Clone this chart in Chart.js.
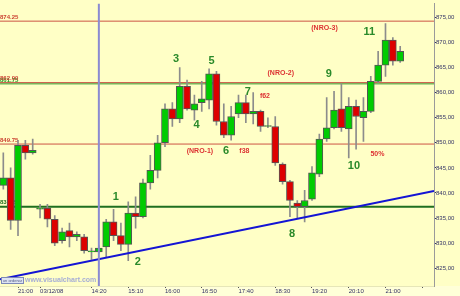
<!DOCTYPE html>
<html lang="es">
<head>
<meta charset="UTF-8">
<title>Velas 10 minutos</title>
<script src="https://cdn.jsdelivr.net/npm/chart.js"></script>
<style>
  html, body { margin: 0; padding: 0; background: #ffffd8; }
  canvas { display: block; }
</style>
</head>
<body>
<canvas id="grafico" width="460" height="296"></canvas>
<script>
// 10 minute candles, one entry per bar (index 0 = first bar on the left)
var aperturas = [841.5, 843, 834.5, 849.5, 848, 836.75, 837, 834.75, 830.5, 832.5, 831.25, 831.25, 828.25, 828.25,
  829.25, 834.25, 831.5, 829.75, 836, 835.25, 842, 844.5, 850, 856.75, 854.75, 861.25, 856.5, 858, 858.5, 863.75,
  854.25, 851.5, 855.75, 858, 855.75, 856.25, 853.25, 853.25, 845.75, 842.25, 838, 837.25, 838.75, 843.75, 850.75,
  853, 856.75, 852.75, 857.25, 855, 856.25, 862.25, 865.5, 870.5, 866.25];
var maximos = [848, 845, 850.5, 850.5, 850.75, 837.75, 837.75, 835.5, 833, 834, 832.25, 831.75, 829, 829.5,
  834.75, 836.75, 834, 838.25, 839.25, 842.75, 847.5, 851.5, 857.75, 858, 865, 862.5, 859.5, 862.25, 864.75, 864.25,
  857.75, 857.25, 859.5, 859.5, 860, 856.5, 855, 855.25, 846, 842.5, 838.5, 840.5, 845.25, 851.75, 859,
  860.25, 861.75, 859, 858.5, 859, 863.25, 868.25, 873.75, 871, 869.25];
var minimos = [840.75, 832.75, 831.5, 846.75, 847.75, 835, 833.25, 829.5, 830, 829.25, 830.5, 828, 826.75, 828,
  827.25, 830.5, 828.5, 826.5, 833, 835, 840.75, 843, 849.25, 853.25, 854, 856.5, 854.5, 856.25, 856.75, 853.5,
  851, 850.5, 855, 854, 853.75, 852.25, 853, 845.5, 841.75, 835.25, 835, 834.25, 838.5, 843.25, 850.25,
  852.75, 852.25, 847, 848.75, 850.25, 856, 862, 863.25, 865.5, 866];
var cierres = [843, 834.5, 849.5, 848, 848.5, 836.75, 834.75, 830, 832.25, 831.25, 831.75, 828.5, 828.25, 829,
  834.25, 831.5, 829.75, 836, 835.25, 842, 844.5, 850, 856.75, 854.75, 861.25, 856.75, 857.75, 858.75, 863.75, 854.25,
  851.5, 855.25, 858, 855.75, 856.25, 853.25, 853.25, 846, 842.25, 838.5, 837.25, 838.5, 844, 850.75, 853,
  856.5, 853, 857.25, 855.25, 856.25, 862.25, 865.5, 870.5, 866.25, 868.25];

// time axis
var ticksX = [2, 5, 12, 17, 22, 27, 32, 37, 42, 47, 52, 57];
var etiquetasX = ['21:00', '03/12/08', '14:20', '15:10', '16:00', '16:50', '17:40', '18:30', '19:20', '20:10', '21:00', ''];
var ticksY = [825, 830, 835, 840, 845, 850, 855, 860, 865, 870, 875];

// drawn levels
var nivelesRojos = [874.25, 862.00, 849.75];
var nivelesVerdes = [861.75, 837.25];
var directriz = [822.8, 840.4];   // blue trend line at left and right edge
var cursorX = 13;                 // vertical cursor bar

// wave count
var numeros = ['1', '2', '3', '4', '5', '6', '7', '8', '9', '10', '11'];
var numerosX = [15.3, 18.3, 23.5, 26.3, 28.35, 30.3, 33.25, 39.3, 44.3, 47.7, 49.8];
var numerosY = [839.2, 826.2, 866.7, 853.5, 866.3, 848.4, 860.2, 831.75, 863.8, 845.3, 872.05];

// red notes
var notas = ['(NRO-3)', '(NRO-2)', '(NRO-1)', 'f62', 'f38', '50%'];
var notasX = [43.7, 37.75, 26.75, 35.6, 32.8, 50.9];
var notasY = [872.8, 864, 848.4, 859.25, 848.4, 847.8];

var xMin = -0.45, xMax = 58.6, yMin = 821.45, yMax = 877.75;

var cuerpos = [];
var mechas = [];
var colores = [];
for (var i = 0; i < aperturas.length; i++) {
  cuerpos.push({ x: i, y: [aperturas[i], cierres[i]] });
  mechas.push({ x: i, y: [minimos[i], maximos[i]] });
  colores.push(cierres[i] >= aperturas[i] ? '#00cc00' : '#dd0000');
}

var datasets = [];
// blue lines on top
datasets.push({ type: 'line', data: [{ x: cursorX, y: yMin }, { x: cursorX, y: yMax }], borderColor: '#8a8ad2', borderWidth: 2, pointRadius: 0, order: 0 });
datasets.push({ type: 'line', data: [{ x: xMin, y: directriz[0] }, { x: xMax, y: directriz[1] }], borderColor: '#1414d4', borderWidth: 2, pointRadius: 0, order: 1 });
// candles
datasets.push({ type: 'bar', data: cuerpos, backgroundColor: colores, borderColor: '#555555', borderWidth: 1, borderSkipped: false, barThickness: 7, minBarLength: 1, grouped: false, order: 3 });
datasets.push({ type: 'bar', data: mechas, backgroundColor: '#8c8c8c', borderWidth: 0, barThickness: 1, grouped: false, order: 4 });
// levels behind
for (var r = 0; r < nivelesRojos.length; r++) {
  datasets.push({ type: 'line', data: [{ x: xMin, y: nivelesRojos[r] }, { x: xMax, y: nivelesRojos[r] }], borderColor: '#cc5544', borderWidth: 1, pointRadius: 0, order: 5 });
}
datasets.push({ type: 'line', data: [{ x: xMin, y: nivelesVerdes[0] }, { x: xMax, y: nivelesVerdes[0] }], borderColor: '#2a9a2a', borderWidth: 1, pointRadius: 0, order: 5 });
datasets.push({ type: 'line', data: [{ x: xMin, y: nivelesVerdes[1] }, { x: xMax, y: nivelesVerdes[1] }], borderColor: '#1f6f1f', borderWidth: 2, pointRadius: 0, order: 5 });

var fondo = {
  id: 'fondo',
  beforeDraw: function (chart) {
    var ctx = chart.ctx, a = chart.chartArea;
    ctx.save();
    ctx.fillStyle = '#ffffd8';
    ctx.fillRect(0, 0, chart.width, chart.height);
    ctx.fillStyle = '#ffffc6';
    ctx.fillRect(0, 0, chart.width, a.bottom);
    ctx.restore();
  }
};

var textosNiveles = {
  id: 'textosNiveles',
  beforeDatasetsDraw: function (chart) {
    var ctx = chart.ctx, y = chart.scales.y;
    ctx.save();
    ctx.font = 'bold 6px "Liberation Sans", Arial, sans-serif';
    ctx.textAlign = 'left';
    ctx.textBaseline = 'bottom';
    ctx.fillStyle = '#2a9a2a';
    ctx.fillText(nivelesVerdes[0].toFixed(2), 0, y.getPixelForValue(nivelesVerdes[0]) - 1);
    ctx.fillStyle = '#1f6f1f';
    ctx.fillText(nivelesVerdes[1].toFixed(2), 0, y.getPixelForValue(nivelesVerdes[1]) - 1);
    ctx.fillStyle = '#cc4433';
    for (var r = 0; r < nivelesRojos.length; r++) {
      ctx.fillText(nivelesRojos[r].toFixed(2), 0, y.getPixelForValue(nivelesRojos[r]) - 1);
    }
    ctx.restore();
  }
};

var anotaciones = {
  id: 'anotaciones',
  afterDatasetsDraw: function (chart) {
    var ctx = chart.ctx, x = chart.scales.x, y = chart.scales.y;
    ctx.save();
    ctx.textAlign = 'center';
    ctx.textBaseline = 'middle';
    ctx.font = 'bold 11px "Liberation Sans", Arial, sans-serif';
    ctx.fillStyle = '#2a8a2a';
    for (var n = 0; n < numeros.length; n++) {
      ctx.fillText(numeros[n], x.getPixelForValue(numerosX[n]), y.getPixelForValue(numerosY[n]));
    }
    ctx.font = 'bold 7px "Liberation Sans", Arial, sans-serif';
    ctx.fillStyle = '#dd3333';
    for (var m = 0; m < notas.length; m++) {
      ctx.fillText(notas[m], x.getPixelForValue(notasX[m]), y.getPixelForValue(notasY[m]));
    }
    // visualchart watermark
    ctx.fillStyle = '#dde3f2';
    ctx.strokeStyle = '#7c88b8';
    ctx.lineWidth = 1;
    ctx.fillRect(1.5, 277.5, 22, 6);
    ctx.strokeRect(1.5, 277.5, 22, 6);
    ctx.font = '4px "Liberation Sans", Arial, sans-serif';
    ctx.fillStyle = '#55608a';
    ctx.fillText('un ordenar', 12.5, 280.6);
    ctx.font = 'bold 7px "Liberation Sans", Arial, sans-serif';
    ctx.textAlign = 'left';
    ctx.fillStyle = '#a6aed6';
    ctx.fillText('www.visualchart.com', 25, 280.5);
    ctx.restore();
  }
};

var grafico = new Chart(document.getElementById('grafico'), {
  type: 'bar',
  data: { datasets: datasets },
  options: {
    responsive: false,
    animation: false,
    layout: { padding: 0 },
    plugins: { legend: { display: false }, tooltip: { enabled: false } },
    scales: {
      x: {
        type: 'linear', min: xMin, max: xMax, offset: false,
        grid: { drawOnChartArea: false, drawTicks: true, tickLength: 2, tickColor: '#555555', offset: false },
        border: { display: true, color: '#e6e6b8' },
        ticks: {
          autoSkip: false, maxRotation: 0, align: 'start', padding: 0, color: '#333366',
          font: { size: 6, family: '"Liberation Sans", Arial, sans-serif' },
          callback: function (v, i) { return etiquetasX[i]; }
        },
        afterBuildTicks: function (s) { s.ticks = ticksX.map(function (v) { return { value: v }; }); },
        afterFit: function (s) { s.height = 10; }
      },
      y: {
        position: 'right', min: yMin, max: yMax,
        grid: { drawOnChartArea: false, tickLength: 2, tickColor: '#333366' },
        border: { display: true, color: '#9a9a9a' },
        ticks: {
          padding: 0, color: '#333366',
          font: { size: 6, family: '"Liberation Sans", Arial, sans-serif' },
          callback: function (v) { return v.toFixed(2).replace('.', ','); }
        },
        afterBuildTicks: function (s) { s.ticks = ticksY.map(function (v) { return { value: v }; }); },
        afterFit: function (s) { s.width = 26; }
      }
    }
  },
  plugins: [fondo, textosNiveles, anotaciones]
});
</script>
</body>
</html>
